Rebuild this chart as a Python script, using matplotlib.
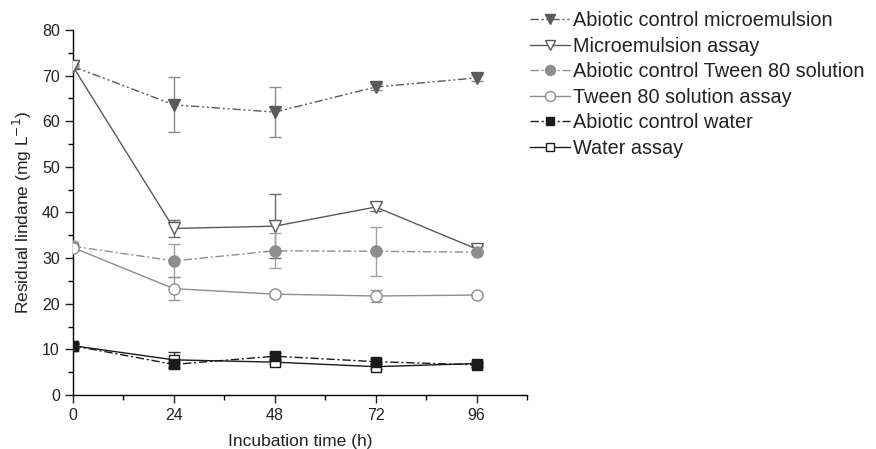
import matplotlib
matplotlib.use("Agg")
import matplotlib.pyplot as plt
from matplotlib.ticker import MultipleLocator

plt.rcParams['font.family'] = ['Liberation Sans', 'DejaVu Sans']

time_h = [0, 24, 48, 72, 96]

ctrl_micro = [72.0, 63.6, 62.0, 67.5, 69.5]
ctrl_micro_err = [0, 6.0, 5.4, 0.6, 0.6]
assay_micro = [72.0, 36.5, 37.0, 41.2, 32.0]
assay_micro_err = [0.6, 1.8, 7.0, 0.8, 0.6]
ctrl_tween = [32.6, 29.4, 31.6, 31.5, 31.3]
ctrl_tween_err = [1.0, 3.6, 3.8, 5.4, 0.5]
assay_tween = [32.3, 23.3, 22.1, 21.7, 21.9]
assay_tween_err = [0.5, 2.5, 0.6, 1.3, 0.5]
ctrl_water = [10.8, 6.7, 8.5, 7.3, 6.6]
ctrl_water_err = [0.6, 0.5, 0.6, 0.5, 0.5]
assay_water = [10.8, 7.7, 7.2, 6.2, 6.9]
assay_water_err = [0.4, 1.8, 0.5, 0.5, 0.4]

labels = ["Abiotic control microemulsion", "Microemulsion assay",
          "Abiotic control Tween 80 solution", "Tween 80 solution assay",
          "Abiotic control water", "Water assay"]

fig = plt.figure(figsize=(8.76, 4.49), dpi=100)
ax = fig.add_axes([0.0833, 0.1203, 0.5183, 0.8129])

series = [
    (ctrl_micro, ctrl_micro_err, 'v', '#5a5a5a', '#5a5a5a', (0, (6, 2, 1.5, 2, 1.5, 2)), '#8a8a8a'),
    (assay_micro, assay_micro_err, 'v', 'white', '#5a5a5a', '-', '#6a6a6a'),
    (ctrl_tween, ctrl_tween_err, 'o', '#8e8e8e', '#8e8e8e', (0, (6, 2, 1.5, 2)), '#a0a0a0'),
    (assay_tween, assay_tween_err, 'o', 'white', '#8e8e8e', '-', '#9a9a9a'),
    (assay_water, assay_water_err, 's', 'white', '#1a1a1a', '-', '#333333'),
    (ctrl_water, ctrl_water_err, 's', '#1a1a1a', '#1a1a1a', (0, (6, 2, 1.5, 2)), '#333333'),
]
order_labels = [labels[0], labels[1], labels[2], labels[3], labels[5], labels[4]]

handles = {}
for (vals, err, mk, fc, ec, ls, errc), lab in zip(series, order_labels):
    ax.errorbar(time_h, vals, yerr=err, fmt='none', ecolor=errc, elinewidth=1.0,
                capsize=4, capthick=1.0, zorder=2)
    h, = ax.plot(time_h, vals, linestyle=ls, color=ec, linewidth=1.0, marker=mk,
                 markersize=8 if mk != 's' else 7, markerfacecolor=fc, markeredgecolor=ec,
                 markeredgewidth=1.0, label=lab, zorder=3)
    handles[lab] = h

ax.set_xlim(0, 108)
ax.set_ylim(0, 80)
ax.set_xticks([0, 24, 48, 72, 96])
ax.xaxis.set_minor_locator(MultipleLocator(12))
ax.yaxis.set_major_locator(MultipleLocator(10))
ax.yaxis.set_minor_locator(MultipleLocator(5))
for s in ['top', 'right']:
    ax.spines[s].set_visible(False)
for s in ['left', 'bottom']:
    ax.spines[s].set_linewidth(1.0)
ax.tick_params(which='major', direction='out', length=6, width=1.0, labelsize=11.5, colors='#222222')
ax.tick_params(which='minor', direction='out', length=3.5, width=1.0)
ax.set_xlabel('Incubation time (h)', fontsize=12.5, labelpad=8, color='#222222')
ax.set_ylabel('Residual lindane (mg L$^{-1}$)', fontsize=12.5, labelpad=6, color='#222222')

leg = fig.legend(handles=[handles[l] for l in labels], labels=labels, loc='upper left',
                 bbox_to_anchor=(0.596, 0.993), frameon=False, fontsize=14.3,
                 handlelength=2.0, handletextpad=0.15, labelspacing=0.33,
                 borderaxespad=0, markerscale=0.9)
for t in leg.get_texts():
    t.set_color('#222222')

fig.savefig('out.png', dpi=100)
